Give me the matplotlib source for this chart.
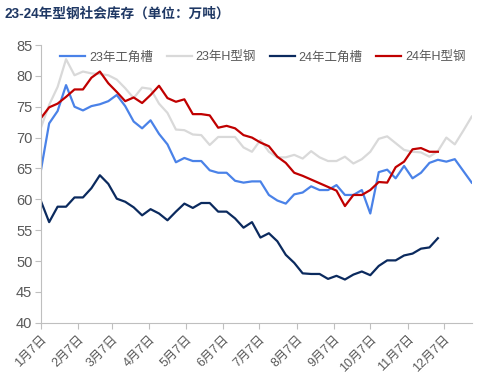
import matplotlib
matplotlib.use("Agg")
import matplotlib.pyplot as plt
import numpy as np

plt.rcParams['font.family'] = ['Liberation Sans', 'Noto Sans CJK SC', 'DejaVu Sans']

# weekly data, week 0 = 1月7日
gjc_23 = [64.5, 72.3, 74.3, 78.5, 75.0, 74.4, 75.1, 75.4, 75.9, 76.9,
          75.1, 72.6, 71.5, 72.8, 70.6, 68.9, 66.0, 66.7, 66.2, 66.2,
          64.7, 64.3, 64.3, 63.0, 62.7, 62.9, 62.9, 60.7, 59.8, 59.3,
          60.8, 61.1, 62.1, 61.5, 61.5, 62.3, 60.7, 60.7, 61.5, 57.7,
          64.4, 64.8, 63.4, 65.4, 63.4, 64.3, 65.9, 66.4, 66.1, 66.5,
          64.6, 62.7]
h_23 = [71.5, 75.3, 78.2, 82.7, 80.1, 80.7, 80.4, 80.3, 80.1, 79.4,
        78.0, 76.4, 78.1, 77.9, 75.5, 74.0, 71.3, 71.2, 70.5, 70.4,
        68.8, 70.1, 70.1, 70.1, 68.4, 67.7, 69.6, 67.7, 66.8, 66.8,
        67.2, 66.6, 67.8, 66.8, 66.2, 66.2, 66.9, 65.8, 66.5, 67.7,
        69.8, 70.2, 69.1, 68.0, 67.7, 67.6, 66.9, 67.8, 70.0, 68.9,
        71.1, 73.4]
gjc_24 = [59.8, 56.3, 58.8, 58.8, 60.3, 60.3, 61.8, 63.9, 62.5, 60.1,
          59.6, 58.7, 57.4, 58.4, 57.7, 56.6, 58.0, 59.3, 58.6, 59.4,
          59.4, 58.0, 58.0, 56.9, 55.4, 56.3, 53.8, 54.5, 53.2, 51.0,
          49.7, 48.0, 47.9, 47.9, 47.1, 47.6, 47.0, 47.8, 48.3, 47.7,
          49.2, 50.1, 50.1, 50.9, 51.2, 52.0, 52.2, 53.7]
h_24 = [73.1, 74.9, 75.5, 76.6, 77.8, 77.8, 79.7, 80.7, 78.8, 77.4,
        75.9, 76.5, 75.6, 76.9, 78.4, 76.4, 75.8, 76.2, 73.8, 73.8,
        73.6, 71.6, 71.9, 71.5, 70.4, 70.0, 69.2, 68.6, 66.9, 65.9,
        64.3, 63.8, 63.2, 62.6, 62.0, 61.4, 58.9, 60.7, 60.7, 61.5,
        62.8, 62.7, 65.2, 66.1, 68.1, 68.3, 67.7, 67.7]

tick_days = [0, 31, 59, 90, 120, 151, 181, 212, 243, 273, 304, 334]
tick_labels = ['1月7日', '2月7日', '3月7日', '4月7日', '5月7日', '6月7日',
               '7月7日', '8月7日', '9月7日', '10月7日', '11月7日', '12月7日']

fig = plt.figure(figsize=(4.88, 3.87), dpi=100)
ax = fig.add_axes([0.0834, 0.1661, 0.8832, 0.7176])

series = [('23年工角槽', gjc_23, '#4A82E8'),
          ('23年H型钢', h_23, '#D9D9D9'),
          ('24年工角槽', gjc_24, '#0B2A5E'),
          ('24年H型钢', h_24, '#C00000')]
for name, vals, col in series:
    days = np.arange(len(vals)) * 7
    ax.plot(days, vals, color=col, lw=1.6, label=name)

ax.set_xlim(0, 357)
ax.set_ylim(40, 85)
ax.set_yticks(range(40, 86, 5))
ax.set_xticks(tick_days)
ax.set_xticklabels(tick_labels, rotation=45, ha='right', va='top',
                   rotation_mode='anchor')
ax.tick_params(axis='both', colors='#BFBFBF', labelcolor='#595959',
               labelsize=9, length=4, width=0.8)
ax.tick_params(axis='y', labelsize=10.5, pad=2)
for s in ['top', 'right']:
    ax.spines[s].set_visible(False)
for s in ['left', 'bottom']:
    ax.spines[s].set_color('#BFBFBF')

leg = ax.legend(loc='upper right', bbox_to_anchor=(1.0, 1.0), ncol=4,
                frameon=False, fontsize=9, handlelength=2.0,
                handletextpad=0.3, columnspacing=1.1, labelcolor='#595959',
                borderaxespad=0.3, borderpad=0.2)

fig.text(0.01, 0.965, '23-24年型钢社会库存（单位：万吨）', fontsize=9.8,
         fontweight='bold', color='#1F3864', va='center', ha='left')

fig.savefig('out.png', dpi=100)
